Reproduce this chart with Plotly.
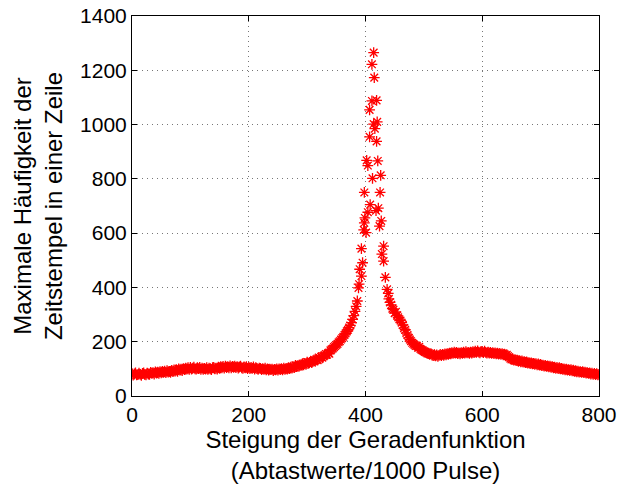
import plotly.graph_objects as go

# Left flank (x step 2 from 0 to 386)
x_left = list(range(0, 388, 2))
y_left = [
    82, 77, 81, 85, 78, 79, 84, 80, 76, 83,
    85, 80, 78, 84, 81, 80, 87, 83, 86, 81,
    89, 84, 88, 83, 90, 85, 91, 87, 92, 86,
    93, 88, 91, 87, 94, 90, 96, 92, 97, 91,
    100, 95, 99, 94, 101, 97, 103, 99, 104, 98,
    105, 99, 103, 106, 100, 99, 104, 101, 105, 98,
    103, 98, 102, 99, 104, 98, 103, 100, 97, 104,
    105, 100, 103, 99, 106, 102, 108, 104, 109, 103,
    110, 105, 108, 104, 111, 104, 109, 106, 110, 105,
    108, 103, 107, 110, 104, 102, 107, 104, 108, 101,
    106, 101, 105, 102, 107, 99, 104, 101, 98, 103,
    102, 97, 101, 98, 103, 96, 100, 95, 99, 97,
    99, 94, 98, 96, 100, 95, 100, 97, 101, 96,
    103, 98, 102, 99, 104, 101, 106, 103, 108, 105,
    113, 108, 112, 109, 115, 114, 119, 115, 120, 117,
    125, 120, 124, 127, 123, 128, 133, 131, 135, 132,
    142, 138, 144, 141, 147, 150, 155, 152, 158, 156,
    168, 172, 175, 180, 184, 188, 192, 198, 202, 208,
    213, 218, 225, 231, 238, 244, 252, 260, 270, 282,
    296, 312, 330, 350,
]

# Sparse points around the peak
x_peak = [388, 389, 390, 393, 393, 395, 397, 398, 398, 399, 401, 402, 404, 404,
          407, 407, 408, 411, 411, 412, 414, 414, 415, 416,
          418, 419, 419, 420, 421, 422, 424, 425, 426, 427, 428, 431, 431, 434,
          437, 439]
y_peak = [398, 412, 467, 442, 543, 491, 612, 638, 750, 656, 602, 868, 849, 677,
          1054, 955, 705, 1222, 1087, 802, 1265, 1002, 1173, 985,
          683, 1089, 938, 1010, 866, 692, 626, 750, 813, 645, 523, 552, 497, 437,
          393, 378]

# Right flank (x step 2 from 440 to 800)
x_right = list(range(440, 802, 2))
y_right = [
    358, 345, 336, 322, 318, 305, 310, 296, 290, 283,
    278, 270, 262, 250, 244, 232, 225, 214, 208, 202,
    196, 192, 188, 184, 185, 178, 181, 174, 170, 168,
    165, 162, 160, 157, 158, 154, 156, 151, 149, 152,
    148, 151, 146, 150, 153, 149, 153, 150, 155, 152,
    156, 153, 158, 155, 160, 157, 162, 158, 161, 156,
    159, 155, 160, 157, 162, 158, 163, 159, 161, 157,
    162, 158, 163, 160, 165, 161, 166, 162, 159, 164,
    163, 160, 165, 161, 158, 162, 158, 161, 157, 160,
    156, 159, 155, 158, 154, 157, 153, 156, 152, 154,
    150, 152, 147, 143, 138, 135, 137, 132, 134, 130,
    132, 128, 130, 126, 129, 125, 127, 123, 126, 121,
    123, 119, 122, 118, 120, 117, 119, 115, 118, 114,
    116, 112, 114, 110, 113, 109, 111, 107, 110, 106,
    108, 104, 106, 102, 105, 101, 104, 100, 102, 98,
    100, 96, 99, 95, 97, 94, 97, 93, 95, 91,
    93, 89, 92, 88, 90, 87, 90, 86, 88, 84,
    86, 83, 85, 81, 84, 80, 83, 79, 82, 78,
    80,
]

x_all = x_left + x_peak + x_right
y_all = y_left + y_peak + y_right

x_ticks = [0, 200, 400, 600, 800]
y_ticks = [0, 200, 400, 600, 800, 1000, 1200, 1400]

FONT = "Liberation Sans, Arial, sans-serif"

fig = go.Figure(
    go.Scatter(
        x=x_all, y=y_all, mode="markers",
        marker=dict(symbol="asterisk", size=9, color="red",
                    line=dict(color="red", width=1.3)),
        showlegend=False,
    )
)

axis_common = dict(
    showline=True, linecolor="black", linewidth=1, mirror="ticks",
    ticks="inside", ticklen=5, tickcolor="black",
    showgrid=True, gridcolor="#777777", griddash="1px,4px", gridwidth=1,
    zeroline=False, automargin=False,
    tickfont=dict(family=FONT, size=21, color="black"),
)

fig.update_layout(
    width=619, height=484,
    margin=dict(l=132, r=20, t=16, b=88),
    paper_bgcolor="white", plot_bgcolor="white",
    font=dict(family=FONT, size=21, color="black"),
    xaxis=dict(
        range=[0, 800], tickvals=x_ticks, ticktext=[str(v) for v in x_ticks],
        title=dict(text="Steigung der Geradenfunktion<br>(Abtastwerte/1000 Pulse)",
                   font=dict(family=FONT, size=24), standoff=4),
        **axis_common,
    ),
    yaxis=dict(
        range=[0, 1400], tickvals=y_ticks, ticktext=[str(v) for v in y_ticks],
        title=dict(text="Maximale Häufigkeit der<br>Zeitstempel in einer Zeile",
                   font=dict(family=FONT, size=24), standoff=10),
        **axis_common,
    ),
)

fig.write_html("out.html")
